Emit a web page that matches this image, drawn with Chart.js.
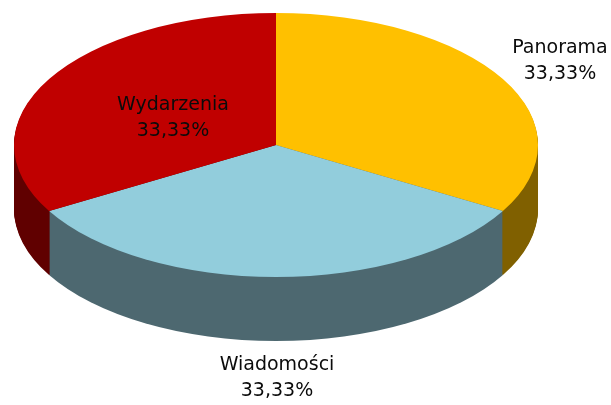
<!DOCTYPE html>
<html><head><meta charset="utf-8">
<style>html,body{margin:0;padding:0;background:#fff;overflow:hidden}canvas{display:block}</style>
<script src="https://cdn.jsdelivr.net/npm/chart.js@4"></script>
</head><body><canvas id="c" width="611" height="405"></canvas>
<script>
const categories = ['Panorama', 'Wiadomości', 'Wydarzenia'];
const shares = [33.33, 33.33, 33.33];
const shareLabels = ['33,33%', '33,33%', '33,33%'];
const topColors = ['#FFC000', '#92CDDC', '#C00000'];
const sideColors = ['#806000', '#4D6870', '#600000'];
const sideOrder = [0, 2, 1];

const view = {cx: 276, cy: 145, rx: 262, ry: 132, depth: 64};
const labelSpots = [[560, 60.5], [277, 378], [173, 118]];

function applyView(ctx, chart, dy) {
  const a = chart.getDatasetMeta(0).data[0];
  ctx.translate(view.cx, view.cy + dy);
  ctx.scale(view.rx / a.outerRadius, view.ry / a.outerRadius);
  ctx.translate(-a.x, -a.y);
}
// Stacked translucent edges leave +/-2 rounding noise on the extruded rim; settle it on the exact colour.
function settleSides(ctx, w, h) {
  const rgb = sideColors.map(c => [1, 3, 5].map(p => parseInt(c.slice(p, p + 2), 16)));
  const img = ctx.getImageData(0, 0, w, h), px = img.data;
  for (let i = 0; i < px.length; i += 4) {
    if (!px[i + 3]) continue;
    for (const c of rgb) {
      if (Math.abs(px[i] - c[0]) < 6 && Math.abs(px[i + 1] - c[1]) < 6 && Math.abs(px[i + 2] - c[2]) < 6) {
        px[i] = c[0]; px[i + 1] = c[1]; px[i + 2] = c[2];
        break;
      }
    }
  }
  ctx.putImageData(img, 0, 0);
}
const pie3d = {
  id: 'pie3d',
  beforeDatasetsDraw(chart) {
    const ctx = chart.ctx, arcs = chart.getDatasetMeta(0).data;
    sideOrder.forEach(i => {
      for (let d = view.depth; d >= 1; d--) {
        ctx.save();
        applyView(ctx, chart, d);
        const arc = arcs[i];
        const col = arc.options.backgroundColor;
        arc.options.backgroundColor = sideColors[i];
        arc.draw(ctx);
        arc.options.backgroundColor = col;
        ctx.restore();
      }
    });
    settleSides(ctx, chart.width, chart.height);
    ctx.save();
    applyView(ctx, chart, 0);
  },
  afterDatasetsDraw(chart) {
    const ctx = chart.ctx;
    ctx.restore();
    ctx.save();
    ctx.fillStyle = '#0b0b0b';
    ctx.font = '20px "DejaVu Sans"';
    ctx.textAlign = 'center';
    ctx.textBaseline = 'middle';
    categories.forEach((name, i) => {
      const [x, y] = labelSpots[i];
      ctx.save();
      ctx.translate(x, y);
      ctx.scale(0.95, 1);
      ctx.fillText(name, 0, -13);
      ctx.fillText(shareLabels[i], 0, 13);
      ctx.restore();
    });
    ctx.restore();
  }
};

new Chart(document.getElementById('c'), {
  type: 'pie',
  data: {labels: categories, datasets: [{data: shares, backgroundColor: topColors, borderWidth: 0}]},
  options: {
    responsive: false,
    animation: false,
    layout: {padding: 0},
    plugins: {legend: {display: false}, tooltip: {enabled: false}}
  },
  plugins: [pie3d]
});
</script></body></html>
